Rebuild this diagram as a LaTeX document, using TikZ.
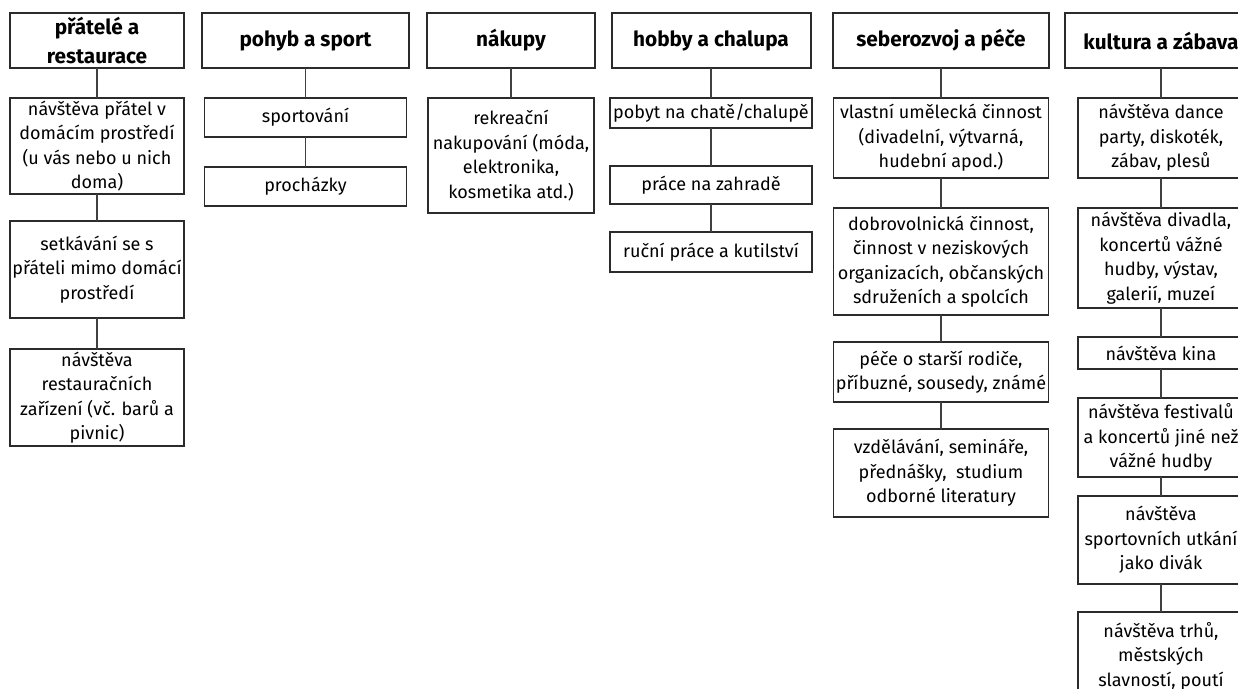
\documentclass[tikz,border=0pt]{standalone}
\usepackage{fontspec}
\setmainfont{Fira Sans}
\usetikzlibrary{positioning}
\definecolor{boxline}{HTML}{2B2B2B}

\begin{document}
\begin{tikzpicture}[x=1pt, y=1pt,
    head/.style = {draw=boxline, line width=1pt, align=center, minimum height=27.5pt, inner sep=1pt, outer sep=0pt, font=\fontsize{10.4}{14.2}\selectfont\bfseries},
    item/.style = {draw=boxline, line width=0.6pt, align=center, inner sep=1pt, outer sep=0pt, font=\fontsize{9}{12.25}\selectfont},
    link/.style = {draw=boxline!90, line width=0.6pt}]
\clip (0,0) rectangle (619,-344.5);
% categories
\node[head, minimum width=87pt] (h1) at (48.5,-20.25) {přátelé a\\ restaurace};
\node[head, minimum width=103.5pt] (h2) at (152.75,-20.25) {pohyb a sport};
\node[head, minimum width=84pt] (h3) at (255.5,-20.25) {nákupy};
\node[head, minimum width=99.5pt] (h4) at (355.5,-20.25) {hobby a chalupa};
\node[head, minimum width=108pt] (h5) at (470.5,-20.25) {seberozvoj a péče};
\node[head, minimum width=96pt] (h6) at (580.5,-20.25) {kultura a zábava};
% přátelé a restaurace
\node[item, minimum width=87pt, minimum height=48pt] (a1) [below=15pt of h1] {návštěva přátel v\\ domácím prostředí\\ (u vás nebo u nich\\ doma)};
\node[item, minimum width=87pt, minimum height=48.5pt] (a2) [below=13.5pt of a1] {setkávání se s\\ přáteli mimo domácí\\ prostředí};
\node[item, minimum width=87pt, minimum height=48.5pt] (a3) [below=15.5pt of a2] {návštěva\\ restauračních\\ zařízení (vč. barů a\\ pivnic)};
% pohyb a sport
\node[item, minimum width=101pt, minimum height=19.5pt] (b1) [below=15pt of h2] {sportování};
\node[item, minimum width=101pt, minimum height=19.5pt] (b2) [below=15pt of b1] {procházky};
% nákupy
\node[item, minimum width=83pt, minimum height=57.5pt] (c1) [below=15pt of h3] {rekreační\\ nakupování (móda,\\ elektronika,\\ kosmetika atd.)};
% hobby a chalupa
\node[item, minimum width=101pt, minimum height=15pt] (d1) [below=15pt of h4] {pobyt na chatě/chalupě};
\node[item, minimum width=101pt, minimum height=19pt] (d2) [below=19pt of d1] {práce na zahradě};
\node[item, minimum width=101pt, minimum height=20pt] (d3) [below=14pt of d2] {ruční práce a kutilství};
% seberozvoj a péče
\node[item, minimum width=107.5pt, minimum height=40pt] (e1) [below=15pt of h5] {vlastní umělecká činnost\\ (divadelní, výtvarná,\\ hudební apod.)};
\node[item, minimum width=107.5pt, minimum height=53.5pt] (e2) [below=15pt of e1] {dobrovolnická činnost,\\ činnost v neziskových\\ organizacích, občanských\\ sdruženích a spolcích};
\node[item, minimum width=107.5pt, minimum height=30pt] (e3) [below=13.5pt of e2] {péče o starší rodiče,\\ příbuzné, sousedy, známé};
\node[item, minimum width=107.5pt, minimum height=44pt] (e4) [below=13.5pt of e3] {vzdělávání, semináře,\\ přednášky,\ \ studium\\ odborné literatury};
% kultura a zábava
\node[item, minimum width=83pt, minimum height=40pt] (f1) [below=15pt of h6] {návštěva dance\\ party, diskoték,\\ zábav, plesů};
\node[item, minimum width=83pt, minimum height=50pt] (f2) [below=15pt of f1] {návštěva divadla,\\ koncertů vážné\\ hudby, výstav,\\ galerií, muzeí};
\node[item, minimum width=83pt, minimum height=16pt] (f3) [below=14.5pt of f2] {návštěva kina};
\node[item, minimum width=83pt, minimum height=39.5pt] (f4) [below=14.5pt of f3] {návštěva festivalů\\ a koncertů jiné než\\ vážné hudby};
\node[item, minimum width=83pt, minimum height=44pt] (f5) [below=9.5pt of f4] {návštěva\\ sportovních utkání\\ jako divák};
\node[item, minimum width=83pt, minimum height=44pt] (f6) [below=14pt of f5] {návštěva trhů,\\ městských\\ slavností, poutí};
% connectors
\draw[link] (h1) -- (a1);
\draw[link] (a1) -- (a2);
\draw[link] (a2) -- (a3);
\draw[link] (h2) -- (b1);
\draw[link] (b1) -- (b2);
\draw[link] (h3) -- (c1);
\draw[link] (h4) -- (d1);
\draw[link] (d1) -- (d2);
\draw[link] (d2) -- (d3);
\draw[link] (h5) -- (e1);
\draw[link] (e1) -- (e2);
\draw[link] (e2) -- (e3);
\draw[link] (e3) -- (e4);
\draw[link] (h6) -- (f1);
\draw[link] (f1) -- (f2);
\draw[link] (f2) -- (f3);
\draw[link] (f3) -- (f4);
\draw[link] (f4) -- (f5);
\draw[link] (f5) -- (f6);
\end{tikzpicture}
\end{document}
